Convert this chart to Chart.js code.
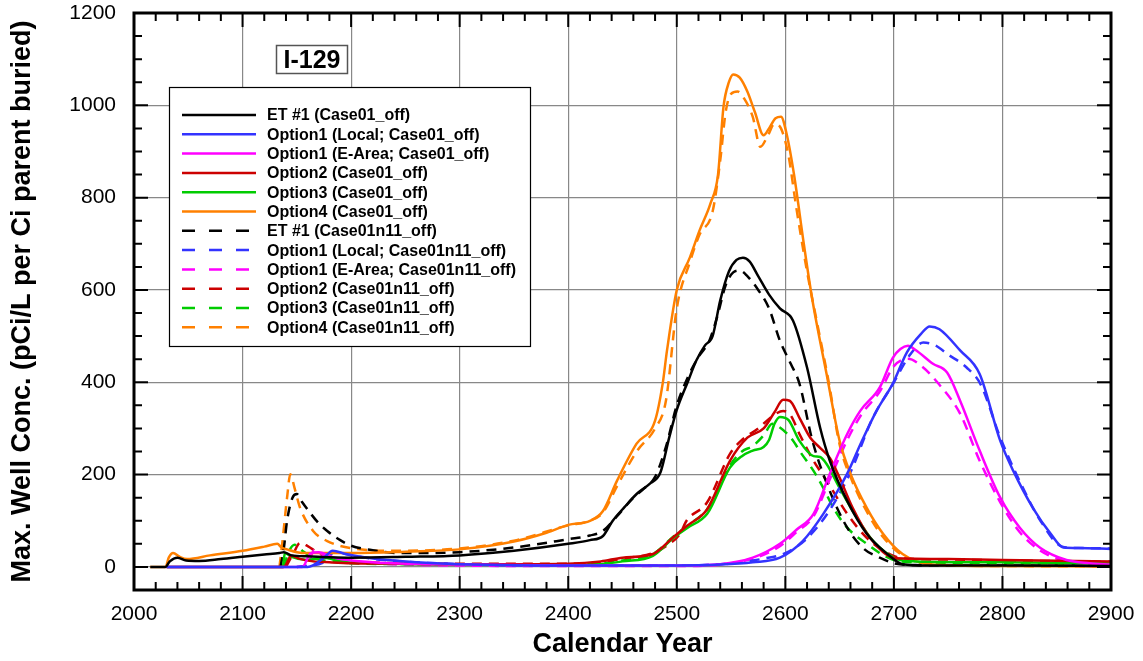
<!DOCTYPE html>
<html>
<head>
<meta charset="utf-8">
<script src="https://cdn.jsdelivr.net/npm/chart.js@4.4.1/dist/chart.umd.min.js"></script>
<style>
  html, body { margin: 0; padding: 0; background: #fff; }
  #wrap { width: 1143px; height: 661px; position: relative; }
</style>
</head>
<body>
<div id="wrap"><canvas id="chart"></canvas></div>
<script>
// ---------------------------------------------------------------------------
// Data
// ---------------------------------------------------------------------------
const xTicks = [2000, 2100, 2200, 2300, 2400, 2500, 2600, 2700, 2800, 2900];
const yTicks = [0, 200, 400, 600, 800, 1000, 1200];

// ET #1 (Case01_off)
const et1Years = [2015, 2029, 2033, 2040, 2048, 2060, 2080, 2100, 2120, 2134, 2138, 2145, 2160, 2180, 2200, 2250, 2300, 2350, 2400, 2420, 2432, 2441, 2452, 2463, 2475, 2485, 2493, 2500, 2510, 2518, 2526, 2533, 2540, 2548, 2555, 2561, 2567, 2575, 2585, 2595, 2607, 2620, 2632, 2641, 2657, 2675, 2694, 2708, 2730, 2800, 2900];
const et1Vals  = [0, 0, 12, 20, 14, 13, 17, 22, 27, 30, 32, 25, 23, 21, 20, 22, 25, 35, 50, 58, 67, 100, 130, 158, 180, 205, 280, 340, 400, 447, 480, 500, 577, 640, 665, 670, 662, 630, 590, 560, 534, 432, 302, 230, 143, 72, 28, 6, 3, 3, 2];

// Option1 (Local; Case01_off)
const opt1LocYears = [2030, 2140, 2160, 2175, 2183, 2195, 2220, 2260, 2300, 2400, 2500, 2540, 2570, 2595, 2616, 2635, 2657, 2670, 2684, 2699, 2712, 2725, 2733, 2742, 2761, 2779, 2798, 2810, 2828, 2845, 2856, 2870, 2900];
const opt1LocVals  = [0, 0, 0, 20, 35, 28, 18, 10, 6, 3, 3, 5, 10, 20, 56, 115, 202, 270, 338, 397, 465, 505, 521, 515, 469, 418, 273, 208, 128, 70, 42, 41, 39];

// Option1 (E-Area; Case01_off)
const opt1EaYears = [2030, 2155, 2163, 2170, 2185, 2220, 2300, 2400, 2500, 2540, 2570, 2595, 2610, 2626, 2641, 2657, 2669, 2687, 2699, 2706, 2713, 2720, 2736, 2749, 2761, 2779, 2798, 2816, 2835, 2859, 2880, 2900];
const opt1EaVals  = [0, 0, 30, 32, 20, 10, 5, 3, 3, 6, 20, 50, 80, 115, 202, 288, 338, 389, 453, 472, 479, 470, 440, 421, 360, 252, 150, 85, 41, 15, 8, 5];

// Option2 (Case01_off)
const opt2Years = [2030, 2138, 2145, 2152, 2165, 2180, 2200, 2250, 2300, 2350, 2400, 2430, 2450, 2478, 2497, 2510, 2528, 2549, 2565, 2580, 2590, 2598, 2604, 2613, 2623, 2632, 2641, 2650, 2662, 2678, 2699, 2710, 2750, 2800, 2900];
const opt2Vals  = [0, 0, 25, 18, 12, 10, 8, 7, 6, 6, 7, 12, 20, 28, 65, 90, 125, 230, 280, 300, 335, 362, 360, 323, 280, 258, 236, 193, 128, 63, 20, 18, 17, 15, 12];

// Option3 (Case01_off)
const opt3Years = [2030, 2137, 2139, 2145, 2160, 2175, 2190, 2220, 2300, 2400, 2429, 2450, 2478, 2497, 2510, 2528, 2549, 2560, 2570, 2580, 2585, 2590, 2595, 2603, 2613, 2626, 2632, 2638, 2650, 2665, 2681, 2703, 2720, 2800, 2900];
const opt3Vals  = [0, 0, 30, 22, 15, 20, 12, 8, 5, 4, 6, 12, 24, 63, 85, 115, 215, 240, 252, 260, 275, 310, 325, 318, 273, 240, 238, 223, 171, 110, 56, 17, 12, 10, 8];

// Option4 (Case01_off)
const opt4Years = [2015, 2029, 2032, 2036, 2042, 2049, 2070, 2100, 2120, 2132, 2136, 2141, 2150, 2159, 2180, 2200, 2250, 2300, 2350, 2380, 2400, 2420, 2432, 2445, 2463, 2480, 2487, 2491, 2500, 2512, 2521, 2531, 2538, 2543, 2548, 2552, 2558, 2565, 2572, 2580, 2585, 2591, 2596, 2601, 2608, 2617, 2625, 2638, 2650, 2660, 2675, 2690, 2708, 2733, 2800, 2900];
const opt4Vals  = [0, 0, 20, 30, 22, 17, 25, 35, 44, 50, 42, 38, 32, 30, 30, 30, 33, 38, 55, 74, 91, 100, 121, 187, 267, 317, 397, 469, 600, 670, 729, 787, 850, 996, 1050, 1067, 1060, 1030, 985, 935, 950, 972, 975, 940, 850, 700, 577, 418, 273, 202, 128, 72, 28, 6, 2, 1];

// ET #1 (Case01n11_off)
const et1nYears = [2135, 2138, 2141, 2146, 2150, 2155, 2160, 2170, 2178, 2190, 2200, 2220, 2245, 2300, 2350, 2400, 2420, 2432, 2445, 2460, 2470, 2480, 2490, 2500, 2510, 2520, 2530, 2537, 2545, 2552, 2558, 2565, 2575, 2585, 2595, 2605, 2613, 2625, 2640, 2657, 2672, 2687, 2700, 2720, 2800, 2900];
const et1nVals  = [0, 40, 100, 150, 158, 140, 124, 95, 78, 58, 46, 36, 30, 32, 42, 60, 68, 78, 110, 150, 170, 195, 260, 350, 410, 455, 490, 540, 610, 638, 642, 630, 600, 560, 490, 440, 397, 273, 170, 85, 40, 20, 8, 4, 3, 2];

// Option1 (Local; Case01n11_off)
const opt1LocNYears = [2150, 2175, 2185, 2200, 2230, 2300, 2400, 2500, 2550, 2580, 2600, 2620, 2640, 2660, 2680, 2700, 2715, 2727, 2738, 2750, 2767, 2780, 2798, 2815, 2835, 2855, 2870, 2900];
const opt1LocNVals  = [0, 10, 33, 25, 15, 6, 3, 3, 8, 18, 30, 62, 120, 205, 320, 400, 460, 486, 480, 460, 432, 395, 280, 190, 100, 44, 41, 40];

// Option1 (E-Area; Case01n11_off)
const opt1EaNYears = [2150, 2160, 2166, 2175, 2190, 2220, 2300, 2400, 2500, 2540, 2570, 2595, 2610, 2626, 2641, 2657, 2670, 2687, 2700, 2713, 2727, 2740, 2761, 2779, 2798, 2816, 2835, 2859, 2880, 2900];
const opt1EaNVals  = [0, 5, 36, 25, 15, 8, 3, 2, 2, 5, 18, 45, 75, 110, 190, 275, 330, 380, 435, 451, 432, 400, 332, 230, 140, 75, 35, 12, 6, 4];

// Option2 (Case01n11_off)
const opt2NYears = [2140, 2147, 2153, 2160, 2170, 2183, 2200, 2250, 2300, 2400, 2430, 2450, 2478, 2490, 2503, 2509, 2528, 2549, 2560, 2575, 2590, 2598, 2605, 2613, 2626, 2638, 2657, 2675, 2696, 2710, 2750, 2800, 2900];
const opt2NVals  = [0, 30, 52, 45, 30, 17, 12, 8, 7, 7, 10, 18, 30, 45, 72, 100, 140, 245, 275, 300, 330, 338, 328, 288, 230, 187, 115, 63, 28, 18, 16, 14, 11];

// Option3 (Case01n11_off)
const opt3NYears = [2138, 2143, 2148, 2155, 2165, 2180, 2200, 2250, 2300, 2400, 2430, 2450, 2478, 2497, 2510, 2528, 2549, 2560, 2570, 2580, 2588, 2595, 2605, 2615, 2626, 2635, 2645, 2657, 2675, 2687, 2700, 2720, 2800, 2900];
const opt3NVals  = [0, 35, 48, 35, 20, 12, 8, 6, 5, 5, 8, 14, 28, 66, 90, 125, 220, 250, 262, 285, 310, 302, 280, 245, 208, 171, 125, 85, 50, 30, 15, 10, 8, 6];

// Option4 (Case01n11_off)
const opt4NYears = [2134, 2137, 2141, 2144, 2148, 2153, 2165, 2178, 2199, 2245, 2300, 2350, 2400, 2420, 2432, 2445, 2463, 2480, 2490, 2500, 2512, 2521, 2533, 2540, 2545, 2550, 2556, 2562, 2570, 2577, 2584, 2590, 2596, 2603, 2610, 2620, 2630, 2640, 2650, 2660, 2675, 2690, 2708, 2733, 2800, 2900];
const opt4NVals  = [0, 60, 150, 201, 170, 128, 78, 56, 41, 35, 40, 57, 90, 100, 118, 175, 250, 300, 360, 560, 660, 720, 770, 880, 985, 1025, 1030, 1015, 975, 910, 935, 960, 950, 890, 780, 640, 520, 400, 265, 195, 120, 65, 25, 6, 2, 1];

// ---------------------------------------------------------------------------
// Styling
// ---------------------------------------------------------------------------
const FONT = "Arial, 'Liberation Sans', Helvetica, sans-serif";
Chart.defaults.font.family = FONT;
Chart.defaults.color = '#000';

const BLACK = '#000000';
const BLUE = '#3333ff';
const MAGENTA = '#ff00ff';
const RED = '#cc0000';
const GREEN = '#00cc00';
const ORANGE = '#ff8000';
const DASH = [10, 7];

function series(label, years, vals, color, dashed) {
  return {
    label,
    data: years.map((x, i) => ({ x, y: vals[i] })),
    borderColor: color,
    backgroundColor: color,
    borderWidth: 2.5,
    borderDash: dashed ? DASH : [],
    pointRadius: 0,
    cubicInterpolationMode: 'monotone',
    fill: false
  };
}

const datasets = [
  series('ET #1 (Case01_off)', et1Years, et1Vals, BLACK, false),
  series('Option1 (Local; Case01_off)', opt1LocYears, opt1LocVals, BLUE, false),
  series('Option1 (E-Area; Case01_off)', opt1EaYears, opt1EaVals, MAGENTA, false),
  series('Option2 (Case01_off)', opt2Years, opt2Vals, RED, false),
  series('Option3 (Case01_off)', opt3Years, opt3Vals, GREEN, false),
  series('Option4 (Case01_off)', opt4Years, opt4Vals, ORANGE, false),
  series('ET #1 (Case01n11_off)', et1nYears, et1nVals, BLACK, true),
  series('Option1 (Local; Case01n11_off)', opt1LocNYears, opt1LocNVals, BLUE, true),
  series('Option1 (E-Area; Case01n11_off)', opt1EaNYears, opt1EaNVals, MAGENTA, true),
  series('Option2 (Case01n11_off)', opt2NYears, opt2NVals, RED, true),
  series('Option3 (Case01n11_off)', opt3NYears, opt3NVals, GREEN, true),
  series('Option4 (Case01n11_off)', opt4NYears, opt4NVals, ORANGE, true)
];

// ---------------------------------------------------------------------------
// Frame, inward ticks, legend box and isotope label
// ---------------------------------------------------------------------------
const framePlugin = {
  id: 'frame',
  afterDraw(chart) {
    const { ctx, chartArea: a, scales: { x, y } } = chart;
    ctx.save();

    // inward ticks on all four sides
    ctx.strokeStyle = '#000';
    ctx.lineWidth = 2;
    ctx.beginPath();
    for (let v = 2000; v <= 2900; v += 20) {
      const px = x.getPixelForValue(v);
      const len = v % 100 === 0 ? 14 : 8;
      ctx.moveTo(px, a.bottom); ctx.lineTo(px, a.bottom - len);
      ctx.moveTo(px, a.top); ctx.lineTo(px, a.top + len);
    }
    for (let v = 0; v <= 1200; v += 50) {
      const py = y.getPixelForValue(v);
      const len = v % 200 === 0 ? 14 : 8;
      ctx.moveTo(a.left, py); ctx.lineTo(a.left + len, py);
      ctx.moveTo(a.right, py); ctx.lineTo(a.right - len, py);
    }
    ctx.stroke();

    // frame
    ctx.lineWidth = 3;
    ctx.strokeRect(a.left, a.top, a.right - a.left, a.bottom - a.top);

    // legend
    const box = { x: 169, y: 87, w: 361, h: 259 };
    ctx.fillStyle = '#fff';
    ctx.fillRect(box.x, box.y, box.w, box.h);
    ctx.lineWidth = 1.2;
    ctx.strokeStyle = '#000';
    ctx.strokeRect(box.x + 0.5, box.y + 0.5, box.w, box.h);

    ctx.font = 'bold 16px ' + FONT;
    ctx.textBaseline = 'middle';
    ctx.textAlign = 'left';
    chart.data.datasets.forEach((ds, i) => {
      const ry = 115 + i * 19.3;
      ctx.strokeStyle = ds.borderColor;
      ctx.lineWidth = 2.5;
      ctx.setLineDash(ds.borderDash.length ? [13, 14] : []);
      ctx.beginPath();
      ctx.moveTo(182, ry);
      ctx.lineTo(ds.borderDash.length ? 249 : 256, ry);
      ctx.stroke();
      ctx.setLineDash([]);
      ctx.fillStyle = '#000';
      ctx.fillText(ds.label, 267, ry + 1);
    });

    // isotope label
    ctx.fillStyle = '#fff';
    ctx.fillRect(276, 45, 72, 29);
    ctx.strokeStyle = '#555';
    ctx.lineWidth = 1.5;
    ctx.strokeRect(276.5, 45.5, 71, 28);
    ctx.fillStyle = '#000';
    ctx.font = 'bold 25px ' + FONT;
    ctx.textAlign = 'center';
    ctx.fillText('I-129', 312, 61);

    ctx.restore();
  }
};

// ---------------------------------------------------------------------------
// Chart
// ---------------------------------------------------------------------------
new Chart(document.getElementById('chart'), {
  type: 'line',
  data: { datasets },
  options: {
    responsive: true,
    maintainAspectRatio: false,
    animation: false,
    layout: { padding: { left: 0, top: 13, right: 32, bottom: 0 } },
    scales: {
      x: {
        type: 'linear',
        min: 2000,
        max: 2900,
        afterBuildTicks: (scale) => { scale.ticks = xTicks.map(v => ({ value: v })); },
        afterFit: (scale) => {
          scale.height = 71;
          scale.paddingLeft = 0;
          scale.paddingRight = 0;
        },
        grid: { color: '#888', lineWidth: 1.2, drawTicks: false },
        border: { display: false },
        ticks: {
          font: { size: 21 },
          color: '#000',
          padding: 12,
          maxRotation: 0,
          autoSkip: false,
          callback: (v) => String(v)
        },
        title: {
          display: true,
          text: 'Calendar Year',
          font: { size: 27, weight: 'bold' },
          color: '#000',
          padding: { top: 0, bottom: 0 }
        }
      },
      y: {
        type: 'linear',
        min: -50,
        max: 1200,
        afterBuildTicks: (scale) => { scale.ticks = yTicks.map(v => ({ value: v })); },
        afterFit: (scale) => {
          scale.width = 134;
          scale.paddingTop = 0;
          scale.paddingBottom = 0;
        },
        grid: { color: '#888', lineWidth: 1.2, drawTicks: false },
        border: { display: false },
        ticks: {
          font: { size: 21 },
          color: '#000',
          padding: 18,
          autoSkip: false,
          callback: (v) => String(v)
        },
        title: {
          display: true,
          text: 'Max. Well Conc. (pCi/L per Ci parent buried)',
          font: { size: 27, weight: 'bold' },
          color: '#000',
          padding: { top: 6, bottom: 0 }
        }
      }
    },
    plugins: {
      legend: { display: false },
      tooltip: { enabled: false }
    }
  },
  plugins: [framePlugin]
});
</script>
</body>
</html>
